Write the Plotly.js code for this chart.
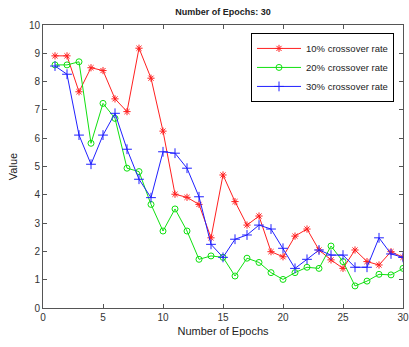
<!DOCTYPE html>
<html><head><meta charset="utf-8">
<script src="https://cdn.plot.ly/plotly-3.0.1.min.js"></script>
<style>html,body{margin:0;padding:0;background:#fff;}#chart{width:409px;height:347px;}</style>
</head><body><div id="chart"></div>
<script>
const epochs = [1,2,3,4,5,6,7,8,9,10,11,12,13,14,15,16,17,18,19,20,21,22,23,24,25,26,27,28,29,30];
const rate10 = [8.91,8.91,7.64,8.49,8.39,7.39,6.94,9.18,8.12,6.25,4.02,3.91,3.66,2.48,4.70,3.76,2.93,3.25,1.99,1.81,2.54,2.79,2.05,1.70,1.40,2.05,1.64,1.52,1.99,1.79];
const rate20 = [8.59,8.59,8.70,5.82,7.23,6.70,4.94,4.82,3.66,2.72,3.50,2.72,1.72,1.84,1.79,1.13,1.76,1.61,1.25,1.01,1.25,1.44,1.40,2.19,1.64,0.78,0.95,1.19,1.17,1.40];
const rate30 = [8.55,8.26,6.11,5.08,6.11,6.88,5.61,4.55,3.90,5.52,5.47,4.94,3.93,2.25,1.79,2.43,2.58,2.93,2.79,2.11,1.40,1.72,2.05,1.87,1.87,1.44,1.44,2.48,1.91,1.79];
const seriesNames = ['10% crossover rate','20% crossover rate','30% crossover rate'];
const xTicks = [0,5,10,15,20,25,30];
const yTicks = [0,1,2,3,4,5,6,7,8,9,10];

const font = {family:'Liberation Sans, Arial, sans-serif', size:10, color:'#222'};
const mk = (y, name, color, symbol, size) => ({
  x: epochs, y: y, name: name, type:'scatter', mode:'lines+markers',
  line:{color:color, width:1},
  marker:{symbol:symbol, size:size, color:color, line:{color:color, width:1}}
});
const data = [
  mk(rate10, seriesNames[0], '#ff2020', 'asterisk-open', 6),
  mk(rate20, seriesNames[1], '#10e010', 'circle-open', 6),
  mk(rate30, seriesNames[2], '#2020ff', 'cross-thin-open', 7)
];
const axisCommon = {showgrid:false, zeroline:false, showline:true, mirror:'ticks', linecolor:'#555', linewidth:1,
  ticks:'inside', ticklen:4, tickcolor:'#555', tickfont:{family:font.family, size:10, color:'#333'}};
const layout = {
  width:409, height:347,
  margin:{l:43, r:6, t:25, b:39},
  paper_bgcolor:'#fff', plot_bgcolor:'#fff',
  font: font,
  title:{text:'<b>Number of Epochs: 30</b>', font:{family:font.family, size:9, color:'#222'}, x:0.545, xanchor:'center', y:0.965, yanchor:'middle'},
  xaxis: Object.assign({}, axisCommon, {range:[0,30], tickvals:xTicks, ticktext:xTicks.map(String),
    title:{text:'Number of Epochs', font:{family:font.family, size:11, color:'#222'}, standoff:5}}),
  yaxis: Object.assign({}, axisCommon, {range:[0,10], tickvals:yTicks, ticktext:yTicks.map(String),
    title:{text:'Value', font:{family:font.family, size:11, color:'#222'}, standoff:9}}),
  legend:{x:0.975, xanchor:'right', y:0.972, yanchor:'top', bordercolor:'#000', borderwidth:1, bgcolor:'#fff',
    font:{family:font.family, size:9.5, color:'#222'}, tracegroupgap:0, itemwidth:44},
  showlegend:true
};
Plotly.newPlot('chart', data, layout, {staticPlot:true, displayModeBar:false});
</script>
</body></html>
